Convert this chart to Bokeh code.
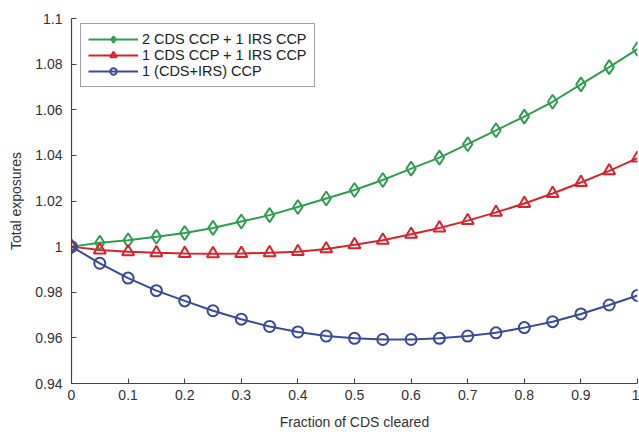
from bokeh.plotting import figure
from bokeh.models import Range1d, FixedTicker, Legend, LegendItem
from bokeh.embed import file_html
from bokeh.resources import INLINE

fraction = [0.0, 0.05, 0.1, 0.15, 0.2, 0.25, 0.3, 0.35, 0.4, 0.45, 0.5,
            0.55, 0.6, 0.65, 0.7, 0.75, 0.8, 0.85, 0.9, 0.95, 1.0]

two_cds_one_irs = [1.0, 1.0017, 1.0028, 1.0043, 1.0060, 1.0082, 1.0110, 1.0138,
                   1.0174, 1.0211, 1.0248, 1.0292, 1.0342, 1.0390, 1.0449, 1.0510,
                   1.0570, 1.0635, 1.0711, 1.0787, 1.0866]
one_cds_one_irs = [1.0, 0.9985, 0.9977, 0.9973, 0.9970, 0.9969, 0.9970, 0.9973,
                   0.9978, 0.9990, 1.0008, 1.0028, 1.0054, 1.0082, 1.0114, 1.0150,
                   1.0189, 1.0233, 1.0281, 1.0332, 1.0388]
one_combined = [1.0, 0.9927, 0.9862, 0.9807, 0.9762, 0.9719, 0.9682, 0.9650,
                0.9626, 0.9608, 0.9598, 0.9593, 0.9593, 0.9598, 0.9608, 0.9622,
                0.9645, 0.9671, 0.9705, 0.9744, 0.9786]

series_names = ["2 CDS CCP + 1 IRS CCP", "1 CDS CCP + 1 IRS CCP", "1 (CDS+IRS) CCP"]

x_ticks = [0, 0.1, 0.2, 0.3, 0.4, 0.5, 0.6, 0.7, 0.8, 0.9, 1.0]
x_tick_labels = ["0", "0.1", "0.2", "0.3", "0.4", "0.5", "0.6", "0.7", "0.8", "0.9", "1"]
y_ticks = [0.94, 0.96, 0.98, 1.0, 1.02, 1.04, 1.06, 1.08, 1.1]
y_tick_labels = ["0.94", "0.96", "0.98", "1", "1.02", "1.04", "1.06", "1.08", "1.1"]

FONT = "Liberation Sans"
GREEN = "#2e9e4f"
RED = "#d9242d"
BLUE = "#3a4a9c"

p = figure(width=639, height=432, output_backend="svg", toolbar_location=None,
           x_range=Range1d(0, 1), y_range=Range1d(0.94, 1.1),
           min_border_left=71, min_border_right=2, min_border_top=18, min_border_bottom=48)
p.outline_line_color = None
p.grid.grid_line_color = None
p.background_fill_color = "white"
p.border_fill_color = "white"

for ax in (p.xaxis[0], p.yaxis[0]):
    ax.axis_line_color = "#444444"
    ax.axis_line_width = 1.2
    ax.major_tick_line_color = "#444444"
    ax.major_tick_in = 5
    ax.major_tick_out = 0
    ax.minor_tick_line_color = None
    ax.major_label_text_font = FONT
    ax.major_label_text_font_size = "14px"
    ax.major_label_text_color = "#333333"
    ax.axis_label_text_font = FONT
    ax.axis_label_text_font_size = "14px"
    ax.axis_label_text_font_style = "normal"
    ax.axis_label_text_color = "#333333"

p.xaxis.ticker = FixedTicker(ticks=x_ticks)
p.xaxis.major_label_overrides = {t: l for t, l in zip(x_ticks, x_tick_labels)}
p.yaxis.ticker = FixedTicker(ticks=y_ticks)
p.yaxis.major_label_overrides = {t: l for t, l in zip(y_ticks, y_tick_labels)}
p.xaxis.axis_label = "Fraction of CDS cleared"
p.yaxis.axis_label = "Total exposures"
p.xaxis.major_label_standoff = 6
p.yaxis.major_label_standoff = 9
p.xaxis.axis_label_standoff = 11
p.yaxis.axis_label_standoff = 8

l1 = p.line(fraction, two_cds_one_irs, line_color=GREEN, line_width=2)
m1 = p.scatter(fraction, two_cds_one_irs, marker="diamond", size=14, fill_color=None,
               line_color=GREEN, line_width=2)
l2 = p.line(fraction, one_cds_one_irs, line_color=RED, line_width=2)
m2 = p.scatter(fraction, one_cds_one_irs, marker="triangle", size=12, fill_color=None,
               line_color=RED, line_width=2)
l3 = p.line(fraction, one_combined, line_color=BLUE, line_width=2)
m3 = p.scatter(fraction, one_combined, marker="circle", size=11, fill_color=None,
               line_color=BLUE, line_width=2)

legend = Legend(items=[
    LegendItem(label=series_names[0], renderers=[l1, m1]),
    LegendItem(label=series_names[1], renderers=[l2, m2]),
    LegendItem(label=series_names[2], renderers=[l3, m3]),
], location=(9, 296))
legend.label_text_font = FONT
legend.label_text_font_size = "14.5px"
legend.label_text_color = "#222222"
legend.glyph_width = 50
legend.glyph_height = 16
legend.label_height = 16
legend.spacing = 0
legend.padding = 7
legend.margin = 0
legend.label_standoff = 4
legend.border_line_color = "#444444"
legend.border_line_width = 1
legend.background_fill_alpha = 1
p.add_layout(legend)

open("out.html", "w").write(file_html(p, INLINE))
